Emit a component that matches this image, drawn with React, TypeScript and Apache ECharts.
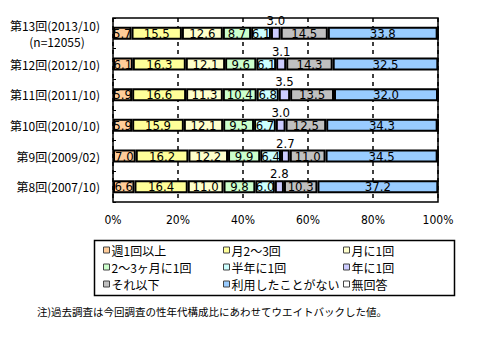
import React, { useEffect, useRef } from "react";
import * as echarts from "echarts";

const categories = [
  "第13回(2013/10)",
  "第12回(2012/10)",
  "第11回(2011/10)",
  "第10回(2010/10)",
  "第9回(2009/02)",
  "第8回(2007/10)",
];
const sampleNotes = ["(n=12055)", "", "", "", "", ""];

const seriesNames = [
  "週1回以上",
  "月2〜3回",
  "月に1回",
  "2〜3ヶ月に1回",
  "半年に1回",
  "年に1回",
  "それ以下",
  "利用したことがない",
  "無回答",
];

const weekly = [5.7, 6.1, 5.9, 5.9, 7.0, 6.6];
const twoThreePerMonth = [15.5, 16.3, 16.6, 15.9, 16.2, 16.4];
const oncePerMonth = [12.6, 12.1, 11.3, 12.1, 12.2, 11.0];
const everyTwoThreeMonths = [8.7, 9.6, 10.4, 9.5, 9.9, 9.8];
const halfYear = [6.1, 6.1, 6.8, 6.7, 6.4, 6.0];
const oncePerYear = [3.0, 3.1, 3.5, 3.0, 2.7, 2.8];
const lessThan = [14.5, 14.3, 13.5, 12.5, 11.0, 10.3];
const neverUsed = [33.8, 32.5, 32.0, 34.3, 34.5, 37.2];
const noAnswer = [0.1, 0, 0, 0.1, 0.1, 0];

const xTicks = [0, 20, 40, 60, 80, 100];
const footnote = "注)過去調査は今回調査の性年代構成比にあわせてウエイトバックした値。";

const colors = [
  "#FFCC99",
  "#FFFF99",
  "#FFFFCC",
  "#CCFFCC",
  "#CCFFFF",
  "#CCCCFF",
  "#C0C0C0",
  "#99CCFF",
  "#FFFFFF",
];

const legendColumns = [
  [0, 3, 6],
  [1, 4, 7],
  [2, 5, 8],
];

const CJK = '"Noto Sans CJK JP", sans-serif';
const NARROW = '"Liberation Sans Narrow", "DejaVu Sans Condensed", sans-serif';

export default function App() {
  const ref = useRef<HTMLDivElement>(null);

  useEffect(() => {
    if (!ref.current) return;
    const chart = echarts.init(ref.current, null, { renderer: "svg" });
    const values = [
      weekly,
      twoThreePerMonth,
      oncePerMonth,
      everyTwoThreeMonths,
      halfYear,
      oncePerYear,
      lessThan,
      neverUsed,
      noAnswer,
    ];

    const series = values.map((data, i) => ({
      name: seriesNames[i],
      type: "bar",
      stack: "total",
      barWidth: 13,
      data,
      itemStyle: { color: colors[i], borderColor: "#000", borderWidth: 2 },
      label: {
        show: i < 8,
        position: i === 5 ? "top" : "inside",
        distance: 0,
        formatter: (p: any) => Number(p.value).toFixed(1),
        color: "#000",
        textBorderWidth: 0,
        textBorderColor: "transparent",
        fontFamily: NARROW,
        fontSize: 13,
      },
      emphasis: { disabled: true },
    }));

    const legends = legendColumns.map((col, ci) => ({
      orient: "vertical",
      left: [103, 223, 343][ci],
      top: 244,
      padding: 0,
      itemGap: 5,
      itemWidth: 6,
      itemHeight: 6,
      icon: "rect",
      data: col.map((k) => seriesNames[k]),
      itemStyle: { borderColor: "#444", borderWidth: 1 },
      textStyle: {
        fontFamily: CJK,
        fontSize: 12,
        lineHeight: 12,
        color: "#000",
        padding: [0, 0, 0, -3],
      },
      selectedMode: false,
    }));

    chart.setOption({
      animation: false,
      grid: {
        left: 113,
        right: 42,
        top: 18,
        bottom: 140,
        show: true,
        borderColor: "#000",
        borderWidth: 1.5,
        backgroundColor: "transparent",
        containLabel: false,
        outerBoundsMode: "none",
      },
      xAxis: {
        type: "value",
        min: xTicks[0],
        max: xTicks[xTicks.length - 1],
        interval: xTicks[1] - xTicks[0],
        axisLine: { show: false },
        axisTick: { show: false },
        splitLine: {
          show: true,
          lineStyle: { color: "#000", type: [4, 4], width: 1.5 },
        },
        axisLabel: {
          formatter: "{value}%",
          margin: 12,
          color: "#000",
          fontFamily: NARROW,
          fontSize: 12,
        },
      },
      yAxis: {
        type: "category",
        inverse: true,
        data: categories,
        axisLine: { show: false },
        splitLine: { show: false },
        axisTick: {
          show: true,
          inside: true,
          length: 3,
          lineStyle: { color: "#000", width: 1 },
        },
        axisLabel: {
          interval: 0,
          margin: 13,
          color: "#000",
          fontFamily: CJK,
          fontSize: 12,
          lineHeight: 16,
          formatter: (v: string, idx: number) =>
            sampleNotes[idx] ? `${v}\n\u3000` : v,
        },
      },
      legend: legends,
      graphic: [
        {
          type: "rect",
          shape: { x: 94.5, y: 240.5, width: 360, height: 55 },
          style: { fill: "none", stroke: "#000", lineWidth: 1.5 },
          silent: true,
        },
        {
          type: "text",
          x: 57,
          y: 41,
          style: {
            text: sampleNotes[0],
            font: `12px ${CJK}`,
            fill: "#000",
            align: "center",
            verticalAlign: "middle",
          },
          silent: true,
        },
        {
          type: "text",
          left: 37,
          top: 306,
          style: {
            text: footnote,
            font: `10.5px ${CJK}`,
            fill: "#000",
          },
          silent: true,
        },
      ],
      series,
    });

    return () => chart.dispose();
  }, []);

  return (
    <div
      ref={ref}
      style={{ position: "fixed", left: 0, top: 0, width: 480, height: 342, background: "#fff" }}
    />
  );
}
